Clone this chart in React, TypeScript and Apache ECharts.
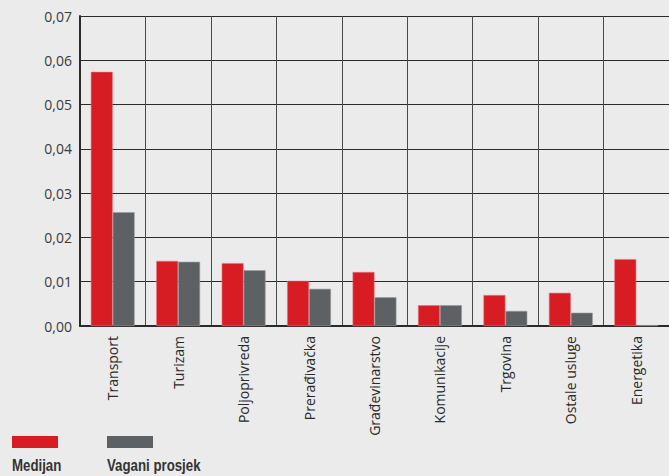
import React, { useEffect, useRef } from "react";
import * as echarts from "echarts";

const categories = [
  "Transport",
  "Turizam",
  "Poljoprivreda",
  "Prerađivačka",
  "Građevinarstvo",
  "Komunikacije",
  "Trgovina",
  "Ostale usluge",
  "Energetika",
];
const medijan = [0.0574, 0.0147, 0.0142, 0.0102, 0.0122, 0.0047, 0.007, 0.0075, 0.0151];
const vaganiProsjek = [0.0257, 0.0145, 0.0126, 0.0084, 0.0065, 0.0047, 0.0034, 0.003, 0.0002];
const seriesNames = ["Medijan", "Vagani prosjek"];
const RED = "#d71c24";
const GRAY = "#5e6163";

export default function App() {
  const ref = useRef<HTMLDivElement>(null);
  useEffect(() => {
    document.body.style.margin = "0";
    const chart = echarts.init(ref.current!, null, { renderer: "svg" });
    const labelFont = "'Open Sans', 'Noto Sans', sans-serif";
    const legendFont = "'Liberation Sans', Arial, sans-serif";
    chart.setOption({
      animation: false,
      backgroundColor: "#ebebeb",
      grid: { left: 80, top: 16, right: 0, bottom: 150, containLabel: false },
      xAxis: {
        type: "category",
        data: categories,
        boundaryGap: true,
        axisLine: { show: true, lineStyle: { color: "#2a2a2a", width: 2 } },
        axisTick: { show: false },
        splitLine: { show: true, interval: 0, lineStyle: { color: "#4a4a4a", width: 1 } },
        axisLabel: {
          interval: 0,
          rotate: 90,
          margin: 10,
          color: "#2a2a2a",
          fontSize: 14,
          fontFamily: labelFont,
        },
      },
      yAxis: {
        type: "value",
        min: 0,
        max: 0.07,
        interval: 0.01,
        axisLine: { show: true, lineStyle: { color: "#2a2a2a", width: 2 } },
        axisTick: { show: false },
        splitLine: { show: true, lineStyle: { color: "#2a2a2a", width: 1 } },
        axisLabel: {
          margin: 8,
          color: "#3a3a3a",
          fontSize: 14,
          fontFamily: labelFont,
          formatter: (v: number) => v.toFixed(2).replace(".", ","),
        },
      },
      series: [
        {
          name: seriesNames[0],
          type: "bar",
          data: medijan,
          barGap: "0%",
          barCategoryGap: "33%",
          itemStyle: { color: RED, borderColor: "#e8747a", borderWidth: 0.6 },
        },
        {
          name: seriesNames[1],
          type: "bar",
          data: vaganiProsjek,
          barGap: "0%",
          barCategoryGap: "33%",
          itemStyle: { color: GRAY, borderColor: "#9a9c9e", borderWidth: 0.6 },
        },
      ],
      graphic: [
        { type: "rect", left: 12, top: 436, shape: { width: 46, height: 12 }, style: { fill: RED } },
        { type: "rect", left: 107, top: 436, shape: { width: 46, height: 12 }, style: { fill: GRAY } },
        {
          type: "text",
          x: 12,
          y: 456,
          scaleX: 0.78,
          style: { text: seriesNames[0], fill: "#333", font: `bold 17px ${legendFont}` },
        },
        {
          type: "text",
          x: 107,
          y: 456,
          scaleX: 0.78,
          style: { text: seriesNames[1], fill: "#333", font: `bold 17px ${legendFont}` },
        },
      ],
    });
    return () => chart.dispose();
  }, []);
  return <div ref={ref} style={{ width: 669, height: 476 }} />;
}
